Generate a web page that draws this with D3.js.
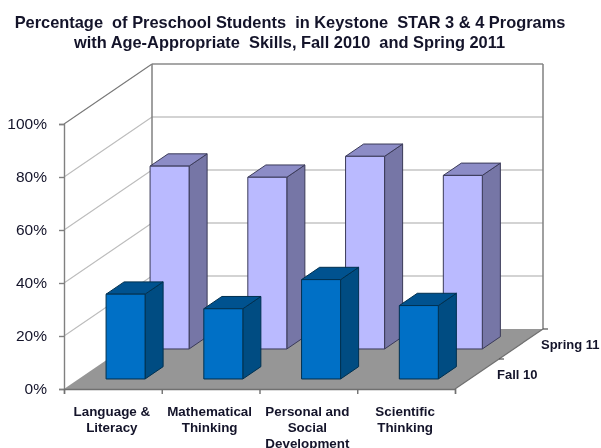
<!DOCTYPE html>
<html>
<head>
<meta charset="utf-8">
<script src="https://cdn.jsdelivr.net/npm/d3@7/dist/d3.min.js"></script>
<style>
  html, body { margin: 0; padding: 0; background: #fff; overflow: hidden; }
  svg { display: block; font-family: "Liberation Sans", Arial, sans-serif; }
  .soft { filter: blur(0.45px); }
</style>
</head>
<body>
<div id="chart"></div>
<script>
// title and labels
const titleLines = ["Percentage  of Preschool Students  in Keystone  STAR 3 & 4 Programs", "with Age-Appropriate  Skills, Fall 2010  and Spring 2011"];
const categories = ["Language & Literacy", "Mathematical Thinking", "Personal and Social Development", "Scientific Thinking"];
const categoryLines = [["Language &", "Literacy"], ["Mathematical", "Thinking"], ["Personal and", "Social", "Development"], ["Scientific", "Thinking"]];
const yTicks = [0, 20, 40, 60, 80, 100];

// values
const fall10 = [32, 26.5, 37.5, 27.7];
const spring11 = [69, 64.8, 72.7, 65.5];
const seriesNames = ["Fall 10", "Spring 11"];

const width = 601, height = 448;
const svg = d3.select("#chart").append("svg").attr("width", width).attr("height", height);
const root = svg.append("g").attr("class", "soft");

// front plane scales, depth is a shear on top of them
const x = d3.scaleBand().domain(categories).range([64, 455]);
const xEdge = d3.scaleLinear().domain([0, categories.length]).range([64, 455]);
const y = d3.scaleLinear().domain([0, 100]).range([389, 124]);
const depthX = d3.scaleLinear().domain([0, 1]).range([0, 88]);
const depthY = d3.scaleLinear().domain([0, 1]).range([0, -60]);

// a point at category position px, depth d (0 front, 1 back), value v
const pt = (px, d, v) => [px + depthX(d), y(v) + depthY(d)];
const poly = (pts) => d3.line()(pts) + "Z";

const left = x.range()[0], right = x.range()[1];

// floor
root.append("path")
  .attr("d", poly([pt(left, 0, 0), pt(right, 0, 0), pt(right, 1, 0), pt(left, 1, 0)]))
  .attr("fill", "#969696");

// gridlines on left wall and back wall
yTicks.forEach((t) => {
  if (t > 0) {
    root.append("path")
      .attr("d", d3.line()([pt(left, 0, t), pt(left, 1, t)]))
      .attr("fill", "none")
      .attr("stroke", t === 100 ? "#777" : "#bcbcbc")
      .attr("stroke-width", 1.1);
    root.append("path")
      .attr("d", d3.line()([pt(left, 1, t), pt(right, 1, t)]))
      .attr("fill", "none")
      .attr("stroke", t === 100 ? "#8a8a8a" : "#c4c4c4")
      .attr("stroke-width", 1.5);
  }
});

// walls edges
root.append("path").attr("d", d3.line()([pt(left, 1, 0), pt(left, 1, 100)])).attr("stroke", "#808080").attr("stroke-width", 1.5);
root.append("path").attr("d", d3.line()([pt(right, 1, 0), pt(right, 1, 100)])).attr("stroke", "#808080").attr("stroke-width", 1.5);

// bars: spring is behind, fall in front
const barWidth = 39;
const barDepth = 0.205;
const barNudge = -2;
const serieStyle = {
  "Spring 11": { start: 0.667, front: "#babaff", side: "#7676a6", top: "#8c8cc6", line: "#3a3a58" },
  "Fall 10": { start: 0.167, front: "#0070c6", side: "#004c82", top: "#00528f", line: "#00304f" },
};

function drawSeries(name, values) {
  const s = serieStyle[name];
  const g = root.append("g").selectAll("g").data(values).join("g");
  const x0 = (d, i) => x(categories[i]) + x.bandwidth() / 2 - barWidth / 2 + barNudge;
  const attrs = (sel) => sel.attr("stroke", s.line).attr("stroke-width", 1).attr("stroke-linejoin", "round");
  g.append("path").attr("fill", s.side).call(attrs).attr("d", (d, i) => {
    const a = x0(d, i) + barWidth;
    return poly([pt(a, s.start, 0), pt(a, s.start + barDepth, 0), pt(a, s.start + barDepth, d), pt(a, s.start, d)]);
  });
  g.append("path").attr("fill", s.top).call(attrs).attr("d", (d, i) => {
    const a = x0(d, i);
    return poly([pt(a, s.start, d), pt(a + barWidth, s.start, d), pt(a + barWidth, s.start + barDepth, d), pt(a, s.start + barDepth, d)]);
  });
  g.append("path").attr("fill", s.front).call(attrs).attr("d", (d, i) => {
    const a = x0(d, i);
    return poly([pt(a, s.start, 0), pt(a + barWidth, s.start, 0), pt(a + barWidth, s.start, d), pt(a, s.start, d)]);
  });
}
drawSeries(seriesNames[1], spring11);
drawSeries(seriesNames[0], fall10);

// value axis
const yAxis = root.append("g").attr("transform", `translate(${left},0)`)
  .call(d3.axisLeft(y).tickValues(yTicks).tickFormat((d) => d + "%").tickSize(5).tickPadding(12));
yAxis.selectAll("path,line").attr("stroke", "#808080").attr("stroke-width", 1.4);
yAxis.selectAll("text").attr("font-size", 15.5).attr("fill", "#14142a").attr("font-family", "Liberation Sans");

// category axis, ticks on band edges
const xAxis = root.append("g").attr("transform", `translate(0,${y(0)})`)
  .call(d3.axisBottom(xEdge).tickValues(d3.range(categories.length + 1)).tickFormat("").tickSize(5));
xAxis.selectAll("path,line").attr("stroke", "#707070").attr("stroke-width", 1.4);

root.append("g").selectAll("text").data(categories).join("text")
  .attr("text-anchor", "middle")
  .attr("font-size", 13.4)
  .attr("font-weight", "bold")
  .attr("fill", "#14142a")
  .each(function (c, i) {
    d3.select(this).selectAll("tspan").data(categoryLines[i]).join("tspan")
      .attr("x", x(c) + x.bandwidth() / 2 - 1)
      .attr("y", (l, k) => 416 + k * 16)
      .text((l) => l);
  });

// depth axis on the right floor edge
const depthTicks = [0.5, 1];
root.append("path").attr("d", d3.line()([pt(right, 0, 0), pt(right, 1, 0)])).attr("stroke", "#707070").attr("stroke-width", 1.2);
root.append("g").selectAll("path").data(depthTicks).join("path")
  .attr("d", (d) => {
    const p = pt(right, d, 0);
    return d3.line()([p, [p[0] + 5, p[1]]]);
  })
  .attr("stroke", "#505050").attr("stroke-width", 1.2);

root.append("g").selectAll("text").data(seriesNames).join("text")
  .attr("x", (d, i) => pt(right, 0.25 + i * 0.5, 0)[0] + 20)
  .attr("y", (d, i) => pt(right, 0.25 + i * 0.5, 0)[1] + 4.5)
  .attr("font-size", 13)
  .attr("font-weight", "bold")
  .attr("fill", "#14142a")
  .text((d) => d);

// title
root.append("g").selectAll("text").data(titleLines).join("text")
  .attr("x", (d, i) => (i === 0 ? 290 : 289.5))
  .attr("y", (d, i) => 28 + i * 20)
  .attr("text-anchor", "middle")
  .attr("font-size", 16.4)
  .attr("font-weight", "bold")
  .attr("fill", "#14142a")
  .style("white-space", "pre")
  .text((d) => d);
</script>
</body>
</html>
